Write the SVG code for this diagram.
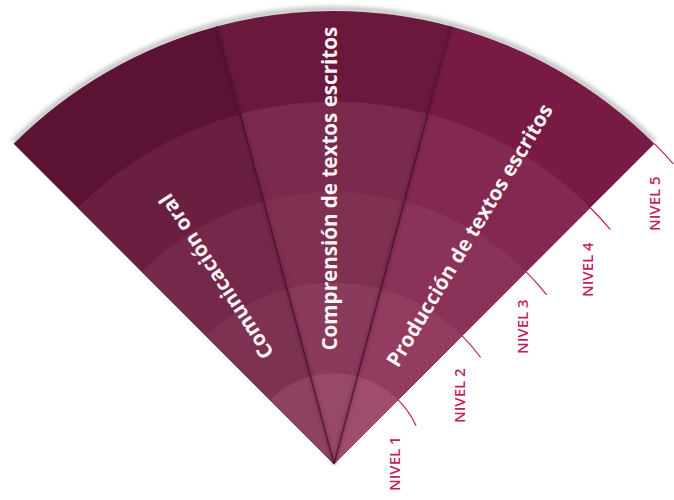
<svg xmlns="http://www.w3.org/2000/svg" width="674" height="500" viewBox="0 0 674 500">
<defs>
<style>
.lbl{font-family:"Open Sans","Noto Sans","Liberation Sans",sans-serif;font-size:20.6px;font-weight:700;fill:#fbf3f6}
.niv{font-family:"Open Sans","Noto Sans","Liberation Sans",sans-serif;font-size:15px;font-weight:600;fill:#c21d5c}
.tick{fill:none;stroke:#c21d5c;stroke-width:1.2}
.div{stroke:#3e0a22;stroke-width:1.5;stroke-opacity:0.6}
.divs{stroke:#3e0a22;stroke-width:5;stroke-opacity:0.2}
</style>
<filter id="blur" x="-10%" y="-10%" width="120%" height="120%"><feGaussianBlur stdDeviation="2.2"/></filter>
<filter id="soft" x="-10%" y="-10%" width="120%" height="120%"><feGaussianBlur stdDeviation="1.5"/></filter>
</defs>
<rect width="674" height="500" fill="#ffffff"/>
<path d="M13.68,143.68 A453,453 0 0 1 654.32,143.68" fill="none" stroke="#8a8a8a" stroke-width="5" stroke-opacity="0.55" filter="url(#blur)" transform="translate(0,-2)"/>
<g id="sector-comunicacion">
<path d="M334,464 L13.68,143.68 A453,453 0 0 1 216.75,26.43 Z" fill="#5c1232"/>
<path d="M334,464 L77.74,207.74 A362.4,362.4 0 0 1 240.20,113.95 Z" fill="#6a1f40"/>
<path d="M334,464 L141.81,271.81 A271.8,271.8 0 0 1 263.65,201.46 Z" fill="#74284a"/>
<path d="M334,464 L205.87,335.87 A181.2,181.2 0 0 1 287.10,288.97 Z" fill="#7e3252"/>
<path d="M334,464 L269.94,399.94 A90.6,90.6 0 0 1 310.55,376.49 Z" fill="#8e4262"/>
</g>
<g id="sector-comprension">
<path d="M334,464 L216.75,26.43 A453,453 0 0 1 451.25,26.43 Z" fill="#6a193d"/>
<path d="M334,464 L240.20,113.95 A362.4,362.4 0 0 1 427.80,113.95 Z" fill="#7a2a4d"/>
<path d="M334,464 L263.65,201.46 A271.8,271.8 0 0 1 404.35,201.46 Z" fill="#803051"/>
<path d="M334,464 L287.10,288.97 A181.2,181.2 0 0 1 380.90,288.97 Z" fill="#8a3a5b"/>
<path d="M334,464 L310.55,376.49 A90.6,90.6 0 0 1 357.45,376.49 Z" fill="#984868"/>
</g>
<g id="sector-produccion">
<path d="M334,464 L451.25,26.43 A453,453 0 0 1 654.32,143.68 Z" fill="#771b45"/>
<path d="M334,464 L427.80,113.95 A362.4,362.4 0 0 1 590.26,207.74 Z" fill="#832951"/>
<path d="M334,464 L404.35,201.46 A271.8,271.8 0 0 1 526.19,271.81 Z" fill="#8a3257"/>
<path d="M334,464 L380.90,288.97 A181.2,181.2 0 0 1 462.13,335.87 Z" fill="#933c60"/>
<path d="M334,464 L357.45,376.49 A90.6,90.6 0 0 1 398.06,399.94 Z" fill="#a04c6c"/>
</g>
<g id="connectors">
<line class="divs" x1="334" y1="464" x2="216.75" y2="26.43" filter="url(#soft)"/>
<line class="divs" x1="334" y1="464" x2="451.25" y2="26.43" filter="url(#soft)"/>
<line class="div" x1="334" y1="464" x2="216.75" y2="26.43"/>
<line class="div" x1="334" y1="464" x2="451.25" y2="26.43"/>
<path class="tick" d="M398.06,399.94 A90.6,90.6 0 0 1 416.1,425.7"/>
<path class="tick" d="M462.13,335.87 A181.2,181.2 0 0 1 480.6,357.5"/>
<path class="tick" d="M526.19,271.81 A271.8,271.8 0 0 1 546.7,294.8"/>
<path class="tick" d="M590.26,207.74 A362.4,362.4 0 0 1 610.4,229.6"/>
<path class="tick" d="M654.32,143.68 A453,453 0 0 1 673.3,163.8"/>
</g>
<g id="label-comunicacion"><text class="lbl" transform="translate(274.6,352.9) rotate(-123)">Comunicación oral</text></g>
<g id="label-comprension"><text class="lbl" transform="translate(336.5,350.5) rotate(-90)">Comprensión de textos escritos</text></g>
<g id="label-produccion"><text class="lbl" transform="translate(398,368.5) rotate(-59)">Producción de textos escritos</text></g>
<g id="nivel-1"><text class="niv" transform="translate(400,491) rotate(-90)">NIVEL 1</text></g>
<g id="nivel-2"><text class="niv" transform="translate(465,423) rotate(-90)">NIVEL 2</text></g>
<g id="nivel-3"><text class="niv" transform="translate(528,354) rotate(-90)">NIVEL 3</text></g>
<g id="nivel-4"><text class="niv" transform="translate(593,297) rotate(-90)">NIVEL 4</text></g>
<g id="nivel-5"><text class="niv" transform="translate(660,231) rotate(-90)">NIVEL 5</text></g>
</svg>
